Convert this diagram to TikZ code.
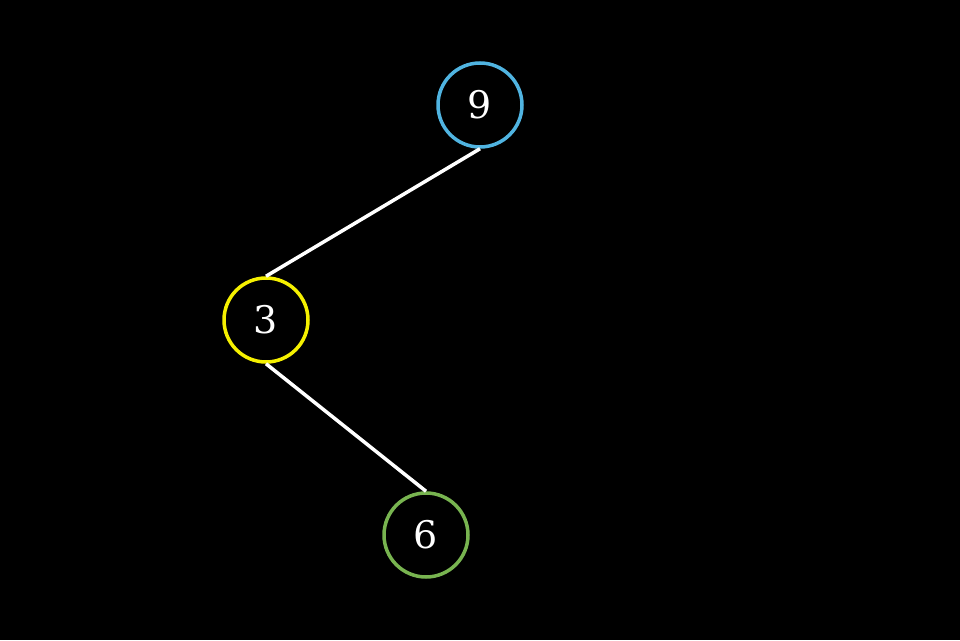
\documentclass[tikz,border=0pt]{standalone}
\usepackage{fontspec}
\setmainfont{DejaVu Serif}
\definecolor{nblue}{RGB}{80,180,225}
\definecolor{nyellow}{RGB}{245,240,0}
\definecolor{ngreen}{RGB}{120,180,80}
\begin{document}
\begin{tikzpicture}[x=1pt,y=1pt,
  tnode/.style={circle,draw,line width=3.5pt,minimum size=84pt,inner sep=0pt,text=white,font=\fontsize{38}{42}\selectfont},
  edge/.style={draw=white,line width=3.5pt}]
\fill[black] (0,0) rectangle (960,640);
\useasboundingbox (0,0) rectangle (960,640);
\node[tnode,draw=nblue] (n9) at (480,535) {9};
\node[tnode,draw=nyellow] (n3) at (266,320) {3};
\node[tnode,draw=ngreen] (n6) at (426,105) {6};
\draw[edge] (n9.south) -- (n3.north);
\draw[edge] (n3.south) -- (n6.north);
\end{tikzpicture}
\end{document}
